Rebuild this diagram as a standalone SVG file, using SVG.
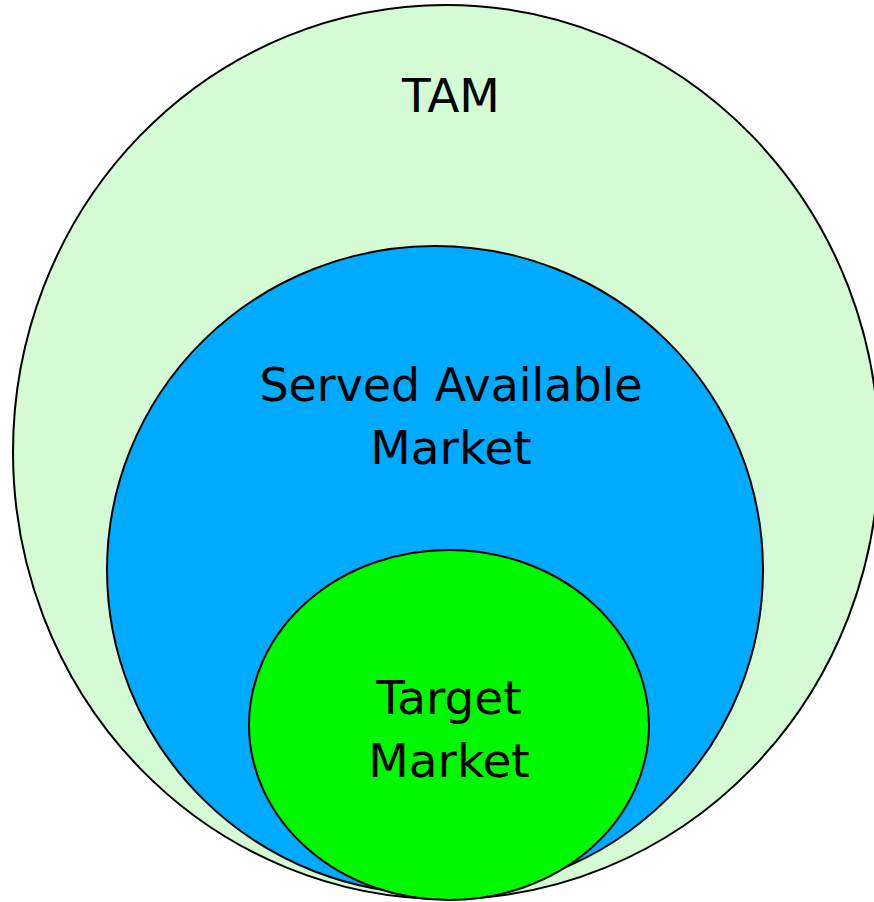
<svg xmlns="http://www.w3.org/2000/svg" width="874" height="902" viewBox="0 0 874 902">
<style>
.e{stroke:#000;stroke-width:2}
.t{font-family:"DejaVu Sans",Verdana,sans-serif;font-size:47px;fill:#000;text-anchor:middle}
</style>
<rect width="874" height="902" fill="#fff"/>
<g id="tam">
<ellipse class="e" cx="446" cy="452" rx="433" ry="447" fill="#D4FBD4"/>
<text class="t" x="451" y="112">TAM</text>
</g>
<g id="sam">
<ellipse class="e" cx="435" cy="570" rx="328" ry="324" fill="#00AAFF"/>
<text class="t" x="451" y="401" textLength="383" lengthAdjust="spacingAndGlyphs">Served Available</text>
<text class="t" x="451" y="464">Market</text>
</g>
<g id="target">
<ellipse class="e" cx="449" cy="725" rx="200" ry="175" fill="#00F800"/>
<text class="t" x="449" y="714">Target</text>
<text class="t" x="449" y="777">Market</text>
</g>
<g id="connectors"/>
</svg>
